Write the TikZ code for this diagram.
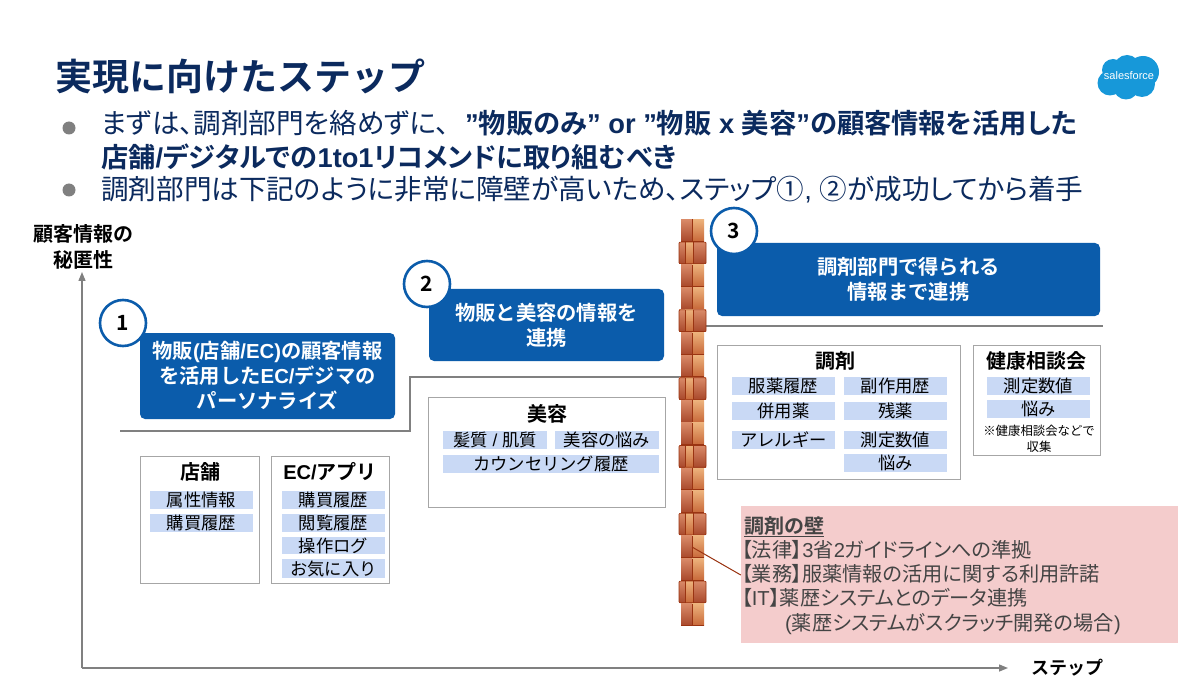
\documentclass[tikz,border=0pt]{standalone}
\usepackage{fontspec}
\setmainfont{Noto Sans CJK JP}[BoldFont={* Bold}]
\newfontfamily\paltfont{Noto Sans CJK JP}[BoldFont={* Bold},RawFeature=+palt]
\newfontfamily\lat{Liberation Sans}
\newcommand{\la}[1]{{\lat #1}}
\newcommand{\lb}{\hspace{-.12em}【}
\newcommand{\rb}{】}
\usetikzlibrary{arrows.meta,positioning}
\definecolor{navy}{HTML}{0B2A5E}
\definecolor{sfblue}{HTML}{0B5CAB}
\definecolor{tagblue}{HTML}{C9D9F5}
\definecolor{axisgray}{HTML}{808080}
\definecolor{boxedge}{HTML}{A6A6A6}
\definecolor{wallpink}{HTML}{F4CCCC}
\definecolor{walltext}{HTML}{444444}
\definecolor{bdark}{HTML}{9A3412}
\definecolor{redtop}{HTML}{D98A68}
\definecolor{redbot}{HTML}{A9492C}
\definecolor{ortop}{HTML}{EDB27C}
\definecolor{orbot}{HTML}{C8693A}
\definecolor{cloud}{HTML}{1798D9}
\newcommand{\fsz}[2][0]{\fontsize{#2}{#2}\selectfont}
\newcommand{\fsl}[2]{\fontsize{#1}{#2}\selectfont}
\tikzset{
 stepbox/.style={fill=sfblue,rounded corners=5pt,text=white,font=\fsl{20.3}{25}\bfseries,align=center,inner sep=0pt},
 numcirc/.style={circle,draw=sfblue,line width=2.6pt,fill=white,minimum size=46pt,inner sep=0pt,font=\fsz{21}\bfseries,text=black},
 catbox/.style={draw=boxedge,line width=.8pt,fill=white,inner sep=0pt},
 tagb/.style={fill=tagblue,inner sep=0pt,font=\fsz{17.3},text=black},
 cathead/.style={font=\fsz{20}\bfseries,text=black,inner sep=0pt},
 axisline/.style={draw=axisgray,line width=1.4pt,-{Triangle[length=9pt,width=7pt]}},
 stairline/.style={draw=axisgray,line width=1.2pt},
 titletext/.style={font=\fsz{37}\bfseries,text=navy,anchor=base west,inner sep=0pt},
 bullettext/.style={font=\paltfont\fsz{27.6},text=navy,anchor=base west,inner sep=0pt},
 bulletdot/.style={circle,fill=axisgray,minimum size=13pt,inner sep=0pt},
 axislabel/.style={font=\fsl{20}{26}\bfseries,text=black,align=center,inner sep=0pt},
 walltxt/.style={font=\paltfont\fsz{20.2},text=walltext,anchor=base west,inner sep=0pt},
}
% \rbox{name}{x1}{y1}{x2}{y2}{style}{text}
\newcommand{\rbox}[7]{\node[#6,minimum width={(#4-#2)*1pt},minimum height={(#5-#3)*1pt}] (#1) at ({(#2+#4)/2},{(#3+#5)/2}) {#7};}
% bricks
\newcommand{\brick}[5]{\fill[top color=#5top,bottom color=#5bot] (#1,#3) rectangle (#2,#4);}
\newcommand{\narrowrow}[1]{\brick{681}{692}{#1}{#1+21.6}{red}\brick{692}{704}{#1}{#1+21.6}{or}
 \draw[bdark,line width=.5pt] (692,#1) -- (692,#1+21.6);
 \draw[bdark,line width=.6pt] (681,#1+21.6) -- (704,#1+21.6);}
\newcommand{\widerow}[1]{\brick{679}{685}{#1}{#1+21.6}{red}\brick{685}{693}{#1}{#1+21.6}{or}\brick{693}{706}{#1}{#1+21.6}{red}
 \draw[bdark,line width=.6pt,rounded corners=1pt] (679,#1) rectangle (706,#1+21.6);
 \draw[bdark,line width=.5pt] (685,#1) -- (685,#1+21.6) (693,#1) -- (693,#1+21.6);}
\begin{document}
\begin{tikzpicture}[x=1pt,y=-1pt]
\useasboundingbox (0,0) rectangle (1200,679);
\fill[white] (0,0) rectangle (1200,679);
% title
\node[titletext] (title) at (55,91) {実現に向けたステップ};
\node[bulletdot] (b1) at (69,128) {};
\node[bulletdot] (b2) at (69,190) {};
\node[bullettext] (l1a) at (101,134) {まずは、調剤部門を絡めずに、};
\node[bullettext,font=\paltfont\fsz{27.3}\bfseries] (l1b) at (465,134) {\la{”}物販のみ\la{” or ”}物販\la{ x }美容\la{”}の顧客情報を活用した};
\node[bullettext,font=\paltfont\fsz{27.2}] (l2) at (101,168) {\bfseries 店舗\la{/}デジタルでの\la{1to1}リコメンドに取り組むべき};
\node[bullettext] (l3) at (101,200) {調剤部門は下記のように非常に障壁が高いため、ステップ①\la{, }②が成功してから着手};
% logo
\fill[cloud] (1113,70) circle (11) (1127,68) circle (13) (1143,72) circle (16) (1110,83) circle (12.5) (1126,87) circle (12.5) (1142,84) circle (13);
\node[font=\fsz{11},text=white,inner sep=0pt] (logo) at (1129,76) {\lat salesforce};
% axes
\coordinate (org) at (82,668);
\coordinate (ytip) at (82,272);
\coordinate (xtip) at (1008,668);
\draw[axisline] (org) -- (ytip);
\draw[axisline] (org) -- (xtip);
\node[axislabel] (ylab) at (84,247) {顧客情報の\\秘匿性};
\node[axislabel,font=\fsz{18}\bfseries] (xlab) at (1067,668) {ステップ};
% stairs
\coordinate (s0) at (120,431);
\coordinate (s1) at (410,431);
\coordinate (s2) at (410,377);
\coordinate (s3) at (681,377);
\coordinate (s4) at (705,326);
\coordinate (s5) at (1103,326);
\draw[stairline] (s0) -- (s1) -- (s2) -- (s3);
\draw[stairline] (s4) -- (s5);
% step boxes
\rbox{st1}{140}{333}{395}{419}{stepbox}{物販\la{(}店舗\la{/EC)}の顧客情報\\を活用した\la{EC/}デジマの\\パーソナライズ}
\rbox{st2}{429}{289}{664}{361}{stepbox}{物販と美容の情報を\\連携}
\rbox{st3}{717}{243}{1100}{316}{stepbox}{調剤部門で得られる\\情報まで連携}
\node[numcirc] (n1) at (123,323) {1};
\node[numcirc] (n2) at (427,284) {2};
\node[numcirc] (n3) at (734,231) {3};
% category boxes
\rbox{c1}{140}{456}{259}{583}{catbox}{}
\rbox{c2}{271}{456}{389}{583}{catbox}{}
\rbox{c3}{428}{397}{665}{507}{catbox}{}
\rbox{c4}{717}{345}{960}{479}{catbox}{}
\rbox{c5}{973}{345}{1100}{455}{catbox}{}
\node[cathead] (h1) at (200,472) {店舗};
\node[cathead] (h2) at (330,472) {\la{EC/}アプリ};
\node[cathead] (h3) at (547,414) {美容};
\node[cathead] (h4) at (835,361) {調剤};
\node[cathead] (h5) at (1036,361) {健康相談会};
\rbox{t11}{150}{491}{253}{509}{tagb}{属性情報}
\rbox{t12}{150}{514}{253}{532}{tagb}{購買履歴}
\rbox{t21}{282}{491}{385}{509}{tagb}{購買履歴}
\rbox{t22}{282}{514}{385}{532}{tagb}{閲覧履歴}
\rbox{t23}{282}{537}{385}{554}{tagb}{操作ログ}
\rbox{t24}{282}{559}{385}{578}{tagb}{お気に入り}
\rbox{t31}{443}{431}{547}{449}{tagb}{髪質\la{ / }肌質}
\rbox{t32}{555}{431}{659}{449}{tagb}{美容の悩み}
\rbox{t33}{443}{455}{659}{473}{tagb}{カウンセリング履歴}
\rbox{t41}{732}{377}{835}{395}{tagb}{服薬履歴}
\rbox{t42}{844}{377}{947}{395}{tagb}{副作用歴}
\rbox{t43}{732}{402}{835}{420}{tagb}{併用薬}
\rbox{t44}{844}{402}{947}{420}{tagb}{残薬}
\rbox{t45}{732}{431}{835}{449}{tagb}{アレルギー}
\rbox{t46}{844}{431}{947}{449}{tagb}{測定数値}
\rbox{t47}{844}{454}{947}{472}{tagb}{悩み}
\rbox{t51}{987}{377}{1090}{395}{tagb}{測定数値}
\rbox{t52}{987}{400}{1090}{418}{tagb}{悩み}
\node[font=\fsl{12.4}{16},align=center,inner sep=0pt,text=black] (note) at (1039,439) {※健康相談会などで\\収集};
% wall
\narrowrow{219.5}
\widerow{242.1}
\narrowrow{264.7}
\narrowrow{287.3}
\widerow{309.9}
\narrowrow{332.5}
\narrowrow{355.1}
\widerow{377.7}
\narrowrow{400.3}
\narrowrow{422.9}
\widerow{445.5}
\narrowrow{468.1}
\narrowrow{490.7}
\widerow{513.3}
\narrowrow{535.9}
\narrowrow{558.5}
\widerow{581.1}
\narrowrow{603.7}
\coordinate (wallpt) at (692,547);
% wall note
\rbox{wn}{741}{506}{1178}{643}{fill=wallpink,inner sep=0pt}{}
\draw[draw=bdark,line width=1pt] (wallpt) -- (wn.west |- 0,575);
\node[walltxt,font=\fsz{20}\bfseries] (w1) at (744,533) {\underline{調剤の壁}};
\node[walltxt] (w2) at (744,557) {\lb 法律\rb\la{3}省\la{2}ガイドラインへの準拠};
\node[walltxt] (w3) at (744,581) {\lb 業務\rb 服薬情報の活用に関する利用許諾};
\node[walltxt] (w4) at (744,605) {\lb\la{IT}\rb 薬歴システムとのデータ連携};
\node[walltxt] (w5) at (785,630) {\la{(}薬歴システムがスクラッチ開発の場合\la{)}};
\end{tikzpicture}
\end{document}
